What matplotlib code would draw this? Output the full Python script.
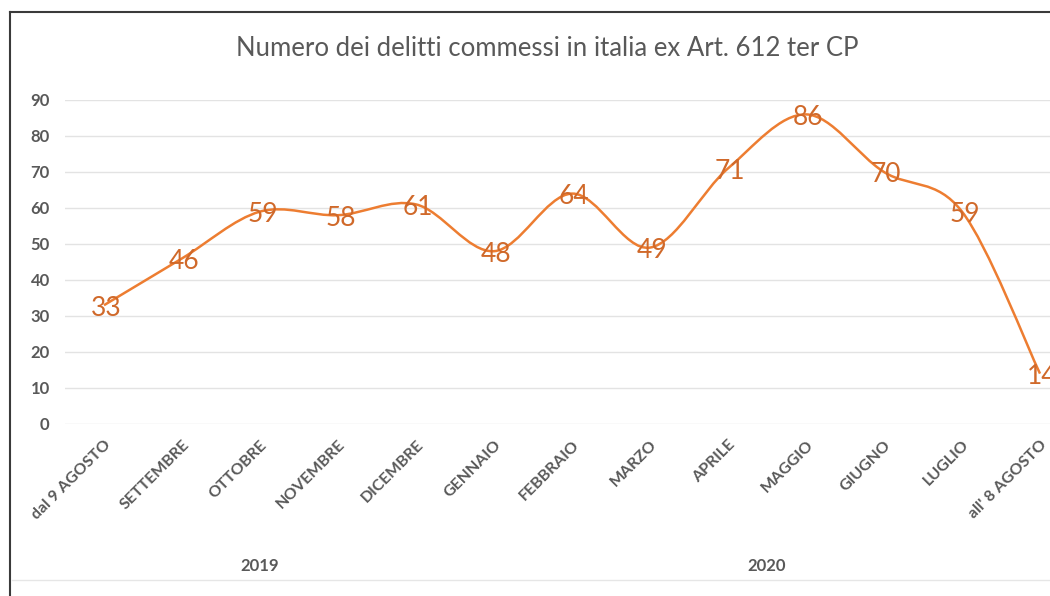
import numpy as np
import matplotlib
matplotlib.use("Agg")
import matplotlib.pyplot as plt
from matplotlib.path import Path
from matplotlib.patches import PathPatch
from matplotlib.lines import Line2D

# data
mesi = ["dal 9 AGOSTO", "SETTEMBRE", "OTTOBRE", "NOVEMBRE", "DICEMBRE",
        "GENNAIO", "FEBBRAIO", "MARZO", "APRILE", "MAGGIO", "GIUGNO",
        "LUGLIO", "all' 8 AGOSTO"]
delitti = [33, 46, 59, 58, 61, 48, 64, 49, 71, 86, 70, 59, 14]
anni = ["2019", "2020"]
mesi_per_anno = [5, 8]

plt.rcParams['font.family'] = ['Lato', 'DejaVu Sans']

fig = plt.figure(figsize=(10.5, 5.96), dpi=100)
ax = fig.add_axes([65/1050, 1-424/596, 13*78/1050, 324/596])

x = np.arange(len(delitti))
y = np.array(delitti, dtype=float)

# smoothed line like Excel (Bezier between points)
verts = [(x[0], y[0])]
codes = [Path.MOVETO]
n = len(x)
for i in range(n-1):
    p0 = np.array([x[max(i-1, 0)], y[max(i-1, 0)]])
    p1 = np.array([x[i], y[i]])
    p2 = np.array([x[i+1], y[i+1]])
    p3 = np.array([x[min(i+2, n-1)], y[min(i+2, n-1)]])
    c1 = p1 + (p2 - p0) / 6
    c2 = p2 - (p3 - p1) / 6
    verts += [tuple(c1), tuple(c2), tuple(p2)]
    codes += [Path.CURVE4] * 3
ax.add_patch(PathPatch(Path(verts, codes), fill=False, edgecolor='#ED7D31',
                       lw=1.8, zorder=3))

for xi, yi in zip(x, delitti):
    ax.text(xi + 0.03, yi - 0.8, str(yi), ha='center', va='center', fontsize=19,
            color='#D0692A', zorder=4, clip_on=False)

ax.set_xlim(-0.5, n-0.5)
ax.set_ylim(0, 90)
ax.set_yticks(range(0, 91, 10))
ax.grid(axis='y', color='#E3E3E3', lw=1)
ax.set_axisbelow(True)
for s in ax.spines.values():
    s.set_visible(False)
ax.tick_params(length=0)
ax.tick_params(axis='y', pad=11, labelcolor='#595959', labelsize=12)
for t in ax.get_yticklabels():
    t.set_fontweight('bold')

ax.set_xticks(x)
ax.set_xticklabels(mesi, rotation=45, ha='right', rotation_mode='anchor',
                   fontsize=11.5, fontweight='bold', color='#595959')
ax.tick_params(axis='x', pad=10)

# year labels
start = 0
for anno, k in zip(anni, mesi_per_anno):
    centro = start + (k - 1) / 2
    ax.text(centro, -39.5, anno, ha='center', va='center', fontsize=12,
            fontweight='bold', color='#595959', clip_on=False)
    start += k

fig.text(547/1050, 1-48/596, "Numero dei delitti commessi in italia ex Art. 612 ter CP",
         ha='center', va='center', fontsize=18.5, color='#595959')

# frame lines
fig.add_artist(Line2D([10/1050, 10/1050], [0, 1-12/596], color='#3A3A3A', lw=1.5))
fig.add_artist(Line2D([10/1050, 1], [1-12/596, 1-12/596], color='#3A3A3A', lw=1.5))
fig.add_artist(Line2D([12/1050, 1], [1-580/596, 1-580/596], color='#E6E6E6', lw=1))

fig.savefig("out.png", dpi=100)
